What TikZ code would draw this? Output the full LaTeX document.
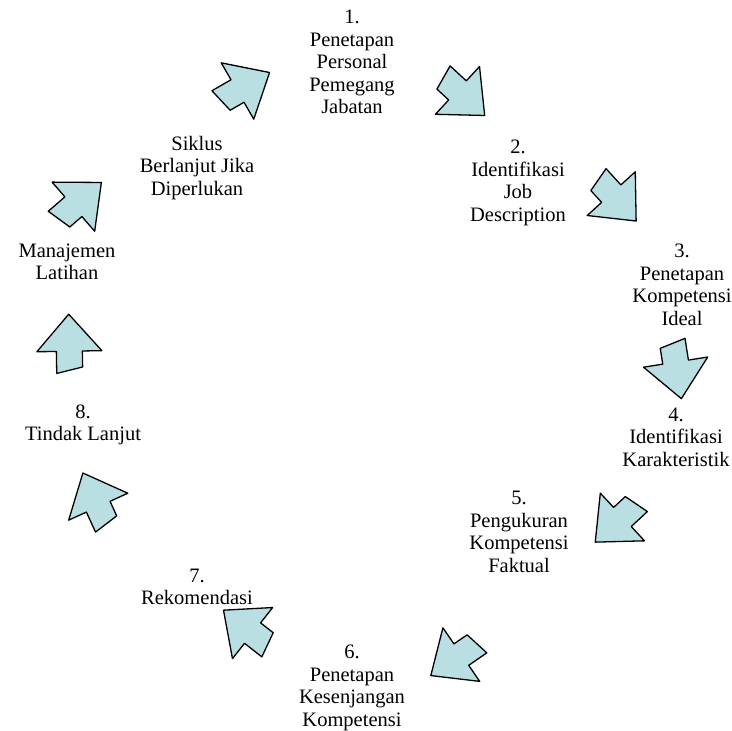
\documentclass[tikz,border=0pt]{standalone}
\usepackage{fontspec}
\setmainfont{Liberation Serif}
\usepackage{tikz}
\definecolor{arrowfill}{RGB}{185,223,227}
\tikzset{
	lbl/.style = {align=center, inner sep=0pt, text centered,
		font=\fontsize{20.5}{22.5}\selectfont},
	blk/.style = {draw=black, fill=arrowfill, line width=1.3pt, line join=round}
}
% block arrow: centre x, centre y, direction (deg)
\newcommand{\blockarrow}[3]{%
	\draw[blk, shift={(#1,#2)}, rotate={#3-90}] (0,-28) -- (32.5,9) -- (13,9)
	-- (13,25) -- (-13,31) -- (-13,9) -- (-32.5,9) -- cycle;}

\begin{document}
\begin{tikzpicture}[x=1pt, y=-1pt]
\useasboundingbox (0,0) rectangle (732,731);
% arrows round the cycle
\blockarrow{245.3}{86.5}{30}
\blockarrow{464.1}{96.5}{-42.7}
\blockarrow{617.3}{200.3}{-47.7}
\blockarrow{677}{371}{-81}
\blockarrow{615.8}{523.1}{-137.2}
\blockarrow{453.9}{659.7}{-145.5}
\blockarrow{245.5}{627.5}{141.8}
\blockarrow{94.5}{498.5}{114.5}
\blockarrow{69.2}{342.2}{91}
\blockarrow{80.2}{200.8}{40.9}
% steps
\node [lbl] (s1) at (352,62) {1.\\Penetapan\\Personal\\Pemegang\\Jabatan};
\node [lbl] (s2) at (518,183) {2.\\Identifikasi\\Job\\Description};
\node [lbl] (s3) at (682,285) {3.\\Penetapan\\Kompetensi\\Ideal};
\node [lbl] (s4) at (676,437) {4.\\Identifikasi\\Karakteristik};
\node [lbl] (s5) at (519,532) {5.\\Pengukuran\\Kompetensi\\Faktual};
\node [lbl] (s6) at (352,688) {6.\\Penetapan\\Kesenjangan\\Kompetensi};
\node [lbl] (s7) at (197,587) {7.\\Rekomendasi};
\node [lbl] (s8) at (83,425) {8.\\Tindak Lanjut};
\node [lbl] (s9) at (67,262) {Manajemen\\Latihan};
\node [lbl] (s10) at (197,168) {Siklus\\Berlanjut Jika\\Diperlukan};
\end{tikzpicture}
\end{document}
